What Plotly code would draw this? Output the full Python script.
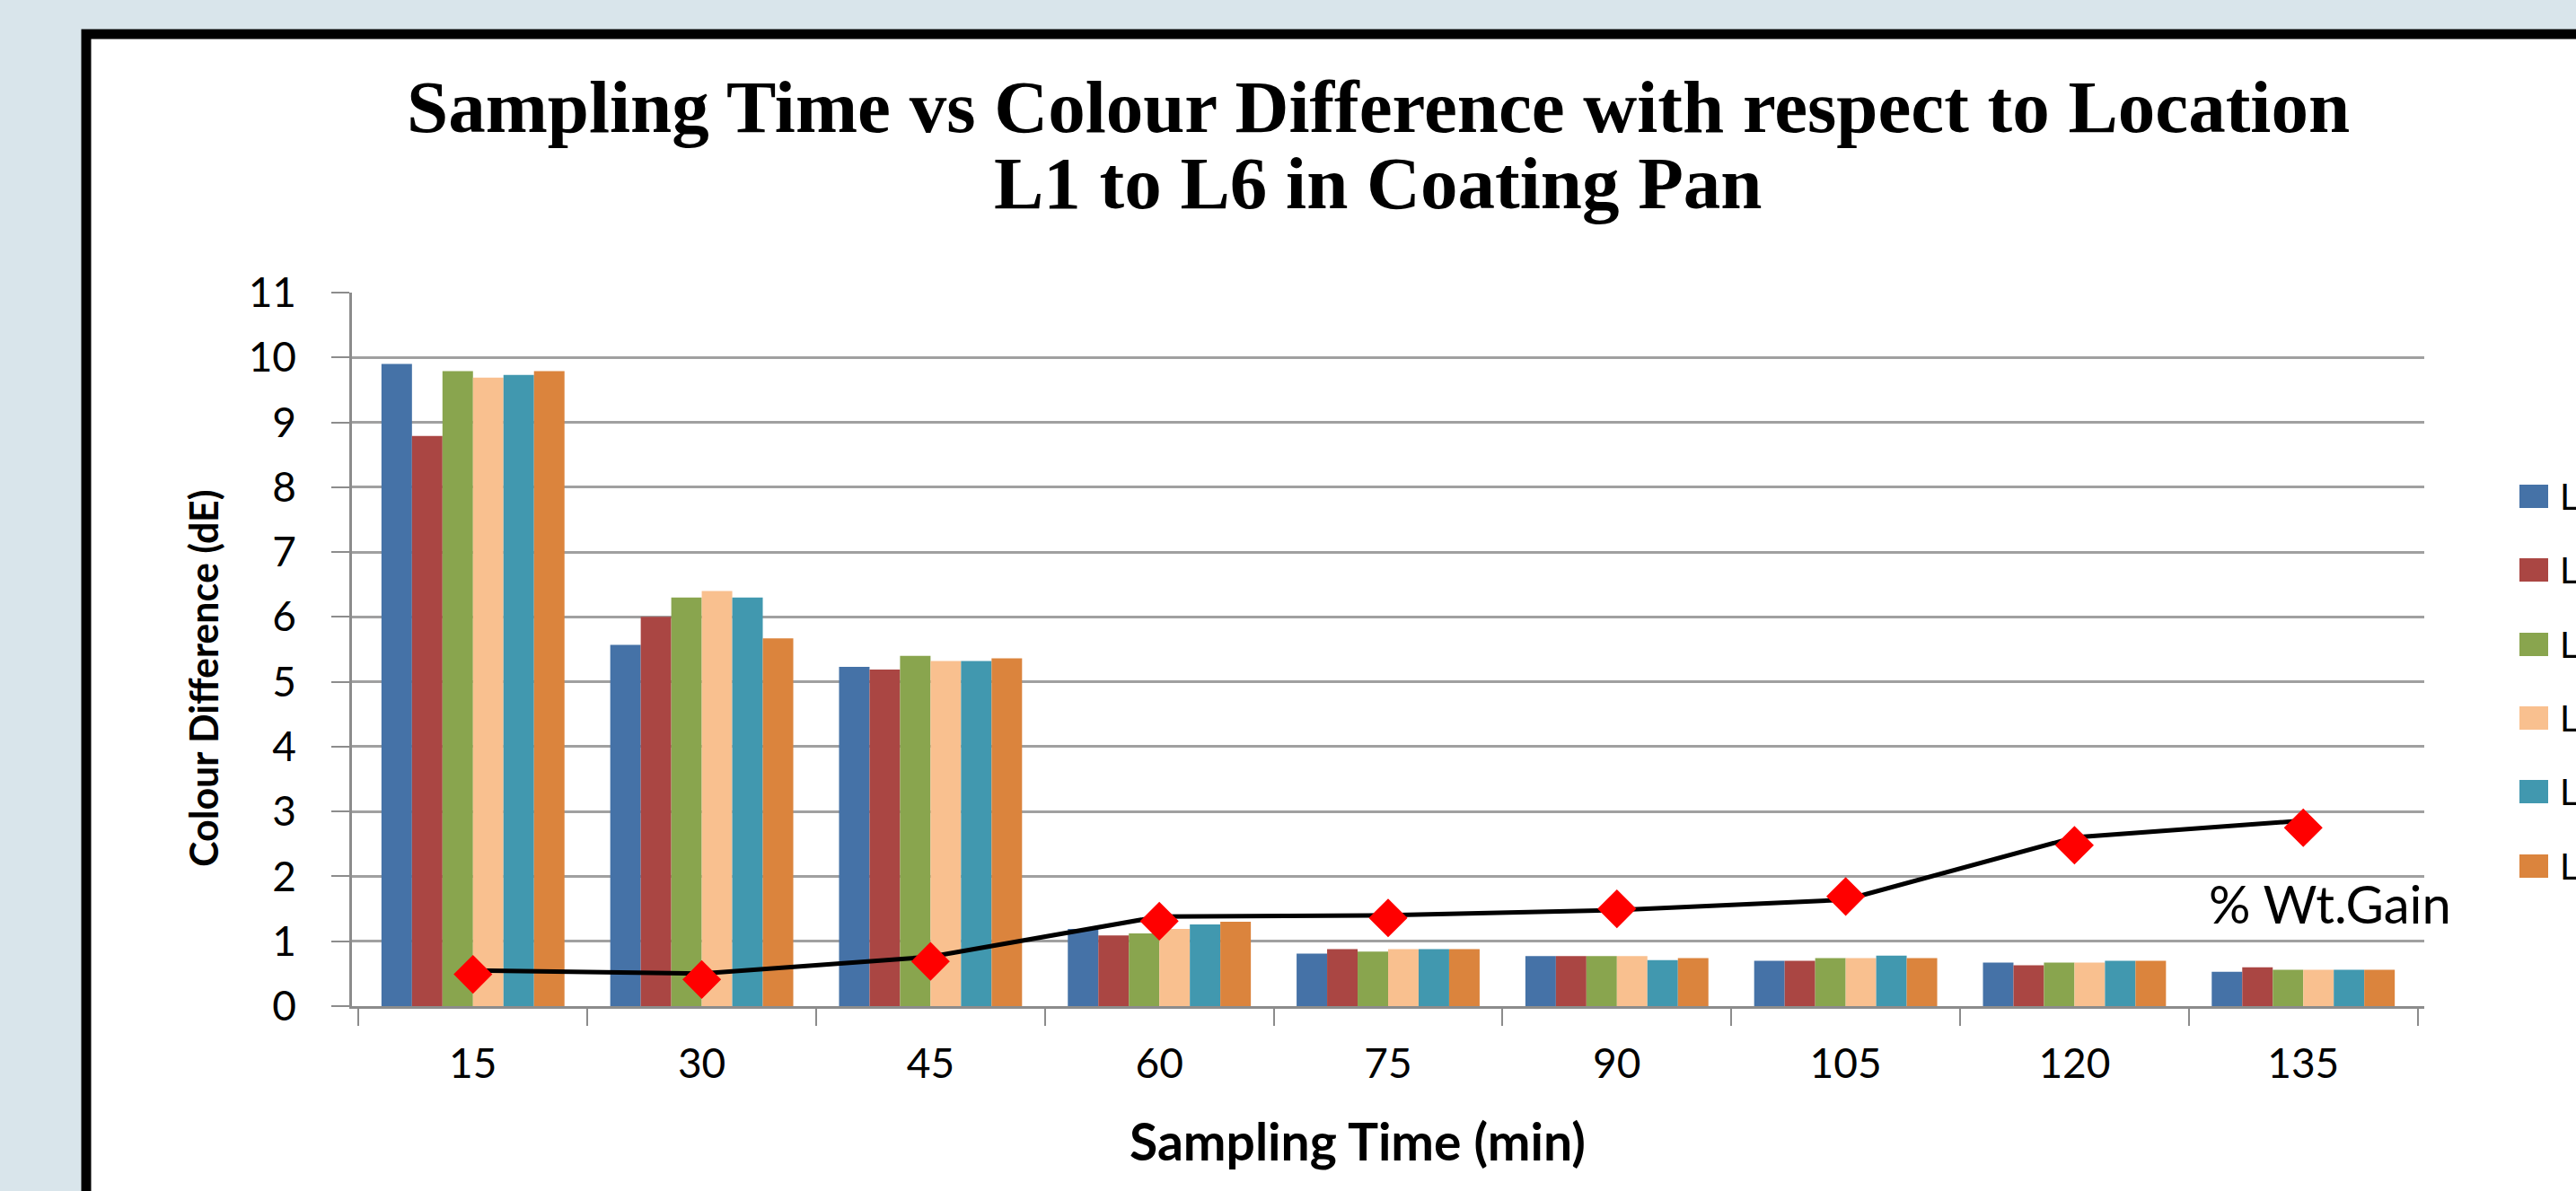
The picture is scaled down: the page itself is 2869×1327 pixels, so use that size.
import plotly.graph_objects as go

# ---------------- data ----------------
times = ["15", "30", "45", "60", "75", "90", "105", "120", "135"]
series_names = ["L1", "L2", "L3", "L4", "L5", "L6"]
L1 = [9.90, 5.57, 5.23, 1.19, 0.81, 0.77, 0.70, 0.67, 0.53]
L2 = [8.79, 6.00, 5.19, 1.09, 0.88, 0.77, 0.70, 0.63, 0.60]
L3 = [9.79, 6.30, 5.40, 1.12, 0.84, 0.77, 0.74, 0.67, 0.56]
L4 = [9.69, 6.40, 5.32, 1.19, 0.88, 0.77, 0.74, 0.67, 0.56]
L5 = [9.73, 6.30, 5.32, 1.26, 0.88, 0.71, 0.78, 0.70, 0.56]
L6 = [9.79, 5.67, 5.36, 1.30, 0.88, 0.74, 0.74, 0.70, 0.56]
wt_gain_markers = [0.49, 0.41, 0.69, 1.31, 1.36, 1.50, 1.69, 2.48, 2.75]
wt_gain_line = [0.55, 0.50, 0.76, 1.38, 1.40, 1.48, 1.64, 2.60, 2.86]
y_ticks = list(range(0, 12))

colors = ["#4572A7", "#AA4643", "#89A54E", "#F9C08F", "#4198AF", "#DB843D"]
series_values = [L1, L2, L3, L4, L5, L6]

# ---------------- layout geometry (pixels) ----------------
W_FIG, H_FIG = 2869, 1327
PL, PR, PT, PB = 392, 2700, 326, 1121
PW, PH = PR - PL, PB - PT


def fx(px):
    return (px - PL) / PW


def fy(py):
    return (PB - py) / PH


fig = go.Figure()

for name, vals, col in zip(series_names, series_values, colors):
    fig.add_trace(go.Bar(x=times, y=vals, name=name, marker=dict(color=col, line=dict(width=0)),
                         showlegend=False))

fig.add_trace(go.Scatter(x=times, y=wt_gain_line, mode="lines", line=dict(color="black", width=5),
                         showlegend=False, name="% Wt.Gain"))
fig.add_trace(go.Scatter(x=times, y=wt_gain_markers, mode="markers",
                         marker=dict(symbol="diamond", size=31, color="#FF0000",
                                     line=dict(color="#FF0000", width=2)),
                         showlegend=False, name="% Wt.Gain"))

shapes = [
    # white panel with thick black frame
    dict(type="rect", xref="paper", yref="paper", x0=fx(96), x1=fx(3000), y0=fy(1450), y1=fy(38),
         fillcolor="white", line=dict(color="black", width=11), layer="below"),
]
annotations = []

# manual legend (large swatches)
leg_y = [553, 635, 718, 800, 882, 965]
for name, col, yy in zip(series_names, colors, leg_y):
    shapes.append(dict(type="rect", xref="paper", yref="paper", x0=fx(2806), x1=fx(2838),
                       y0=fy(yy + 13), y1=fy(yy - 13), fillcolor=col, line=dict(width=0)))
    annotations.append(dict(x=fx(2850), y=fy(yy), xref="paper", yref="paper", text=name,
                            showarrow=False, xanchor="left", yanchor="middle", borderpad=0,
                            font=dict(family="Lato", size=40, color="black")))

# title (two lines)
TS = 83
title_font = dict(family="Liberation Serif", size=TS, color="black", weight="bold")
annotations.append(dict(x=fx(1535), y=fy(146 - 0.33 * TS), xref="paper", yref="paper",
                        text="Sampling Time vs Colour Difference with respect to Location",
                        showarrow=False, xanchor="center", yanchor="middle", font=title_font))
annotations.append(dict(x=fx(1535), y=fy(231 - 0.33 * TS), xref="paper", yref="paper",
                        text="L1 to L6 in Coating Pan",
                        showarrow=False, xanchor="center", yanchor="middle", font=title_font))

# axis titles
XS = 57
annotations.append(dict(x=fx(1512), y=fy(1290 - 0.33 * XS), xref="paper", yref="paper",
                        text="Sampling Time (min)", showarrow=False, xanchor="center", yanchor="middle",
                        font=dict(family="Lato", size=XS, color="black", weight="bold")))
annotations.append(dict(x=fx(226), y=fy(756), xref="paper", yref="paper", textangle=-90,
                        text="Colour Difference (dE)", showarrow=False, xanchor="center", yanchor="middle",
                        font=dict(family="Lato", size=43, color="black", weight="bold")))

# series label
annotations.append(dict(x=fx(2595), y=fy(1006), xref="paper", yref="paper", text="% Wt.Gain",
                        showarrow=False, xanchor="center", yanchor="middle",
                        font=dict(family="Lato", size=58, color="black")))

fig.update_layout(
    width=W_FIG, height=H_FIG,
    margin=dict(l=PL, r=W_FIG - PR, t=PT, b=H_FIG - PB, autoexpand=False),
    paper_bgcolor="#D9E5EB",
    plot_bgcolor="rgba(0,0,0,0)",
    barmode="group", bargap=0.2, bargroupgap=0,
    showlegend=False,
    shapes=shapes,
    annotations=annotations,
    xaxis=dict(type="category", tickson="boundaries", ticks="outside", ticklen=19, tickwidth=2,
               tickcolor="#8C8C8C", showline=True, linecolor="#8C8C8C", linewidth=2.5, showgrid=False,
               tickfont=dict(family="Lato", size=46, color="black"), ticklabelstandoff=22),
    yaxis=dict(range=[0, 11], tickvals=y_ticks, ticks="outside", ticklen=20, tickwidth=2,
               tickcolor="#8C8C8C", showline=True, linecolor="#8C8C8C", linewidth=2.5,
               showgrid=True, gridcolor="#A0A0A0", gridwidth=2.5, zeroline=False,
               tickfont=dict(family="Lato", size=46, color="black"), ticklabelstandoff=30),
)

fig.write_html("out.html", config={"displayModeBar": False},
               post_script="document.body.style.margin='0';document.body.style.overflow='hidden';")
